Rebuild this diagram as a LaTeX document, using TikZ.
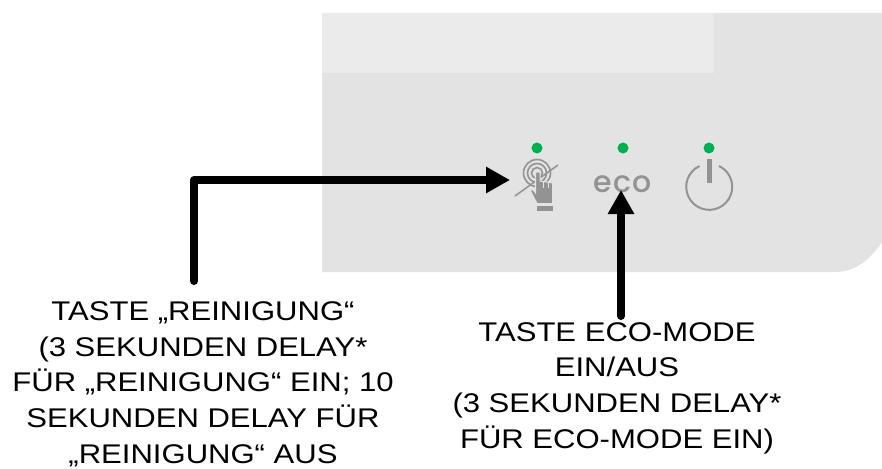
\documentclass[tikz,border=0pt]{standalone}
\usepackage{fontspec}
\setmainfont[FakeStretch=1.15]{Liberation Sans}
\newfontfamily\ecofont[LetterSpace=4]{Poppins Medium}
\usetikzlibrary{positioning}
\usetikzlibrary{arrows.meta}
\definecolor{panelgray}{HTML}{E3E3E3}
\definecolor{panellight}{HTML}{EBEBEB}
\definecolor{icongray}{HTML}{939393}
\definecolor{ledgreen}{HTML}{00B050}
\tikzset{
  led/.style={circle, fill=ledgreen, inner sep=0pt, minimum size=11pt},
  caption/.style={align=center, inner sep=0pt, font=\fontsize{27}{35.7}\selectfont},
  callout/.style={line width=8pt, line cap=round, line join=round, -{Triangle[width=25pt,length=24pt]}},
  ring/.style={draw=icongray, line width=1.6pt}
}
\begin{document}
\begin{tikzpicture}[x=1pt, y=-1pt]
                \useasboundingbox (0, 0) rectangle (882, 468);

                % Draw the panel
                \fill[panelgray] (322, 13) -- (882, 13) -- (882, 242) .. controls (870, 260) and (855, 272) .. (835, 272) -- (322, 272) -- cycle;
                \fill[panellight] (322, 13) rectangle (714, 73);

                % Draw the LEDs
                \node[led] (led1) at (537, 148) {};
                \node[led] (led2) at (623, 148) {};
                \node[led] (led3) at (709, 148) {};

                % Draw the touch icon
                \coordinate (touch) at (537, 173);
                \draw[ring] (touch) circle (13.5pt);
                \draw[ring] (touch) circle (9.5pt);
                \draw[ring] (touch) circle (5.5pt);
                \draw[icongray, line width=1.5pt] (515, 196) -- (558, 165);
                \fill[icongray, draw=panelgray, line width=1pt] (535.5, 172) -- (540, 172) -- (540, 181) -- (552.5, 183) -- (552.5, 203.5) -- (537, 203.5) -- (530.5, 191) -- (532.5, 189) -- (535.5, 193) -- cycle;
                \draw[panelgray, line width=1pt] (543.5, 181) -- (543.5, 188);
                \draw[panelgray, line width=1pt] (548, 181) -- (548, 188);
                \fill[icongray] (536.5, 206) rectangle (552.5, 211);

                % Draw the eco label
                \node[inner sep=0pt, text=icongray, font=\ecofont\fontsize{30}{30}\selectfont] (eco) at (623, 184) {eco};

                % Draw the power icon
                \draw[icongray, line width=2pt] (699.5, 166) arc (115:425:23pt);
                \draw[icongray, line width=5pt] (709, 159) -- (709, 183);

                % Draw the captions
                \node[caption] (cleantext) at (203, 384) {TASTE „REINIGUNG“\\(3 SEKUNDEN DELAY*\\FÜR „REINIGUNG“ EIN; 10\\SEKUNDEN DELAY FÜR\\„REINIGUNG“ AUS};
                \node[caption] (ecotext) at (617, 388) {TASTE ECO-MODE\\EIN/AUS\\(3 SEKUNDEN DELAY*\\FÜR ECO-MODE EIN)};

                % Draw the arrows
                \coordinate (cleanstart) at (194, 281);
                \coordinate (cleantip) at (510, 180);
                \coordinate (ecostart) at (621, 316);
                \coordinate (ecotip) at (621, 190);
                \draw[callout] (cleanstart) |- (cleantip);
                \draw[callout] (ecostart) -- (ecotip);
            \end{tikzpicture}
\end{document}
